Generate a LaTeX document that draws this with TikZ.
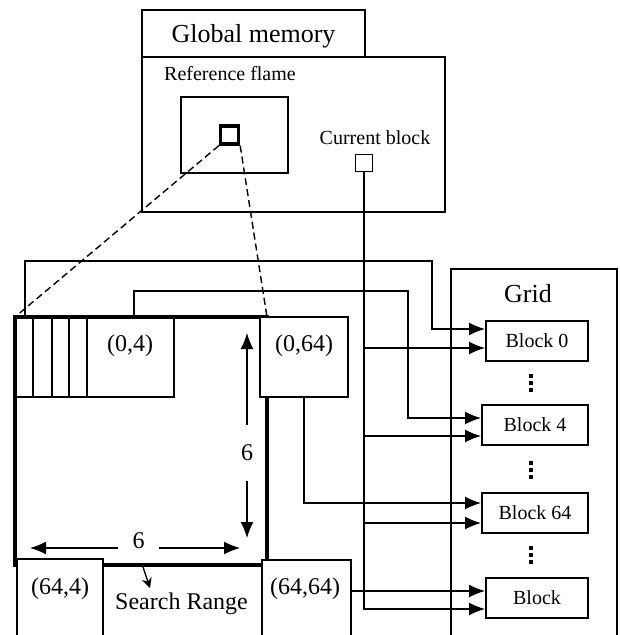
\documentclass[tikz,border=0pt]{standalone}
\usepackage{fontspec}
\setmainfont{Liberation Serif}
\usetikzlibrary{arrows.meta}

\begin{document}
\begin{tikzpicture}[x=0.5pt, y=-0.5pt, >={Latex[length=8pt,width=6.5pt]},
		link/.style={->, line width=0.7pt},
		blk/.style={draw, line width=1pt, minimum height=20pt, inner sep=0pt, font=\fontsize{10}{12}\selectfont},
		cell/.style={draw, fill=white, line width=0.7pt, inner sep=0pt},
		lbl/.style={font=\fontsize{12}{14}\selectfont, inner sep=0pt}]
	
	\useasboundingbox (0,0) rectangle (619,635);
	
	% --- Global memory: reference frame and current block ---
	\draw[line width=0.8pt] (142,10) rectangle (365,57);
	\node[font=\fontsize{13}{15}\selectfont] (gm) at (253.5,36) {Global memory};
	\draw[line width=0.8pt] (142,57) rectangle (445,212);
	\node[font=\fontsize{10}{12}\selectfont] (rf) at (230,74) {Reference flame};
	\draw[line width=0.9pt] (181,97) rectangle (288,173);
	\node[draw, line width=1.7pt, minimum size=9pt, inner sep=0pt] (ref) at (229.5,135) {};
	\node[font=\fontsize{10}{12}\selectfont] (cbl) at (375,138) {Current block};
	\node[draw, line width=0.9pt, minimum size=8.5pt, inner sep=0pt] (cur) at (364,163) {};
	
	% --- Search range with its corner blocks ---
	\draw[line width=0.7pt] (15,317) rectangle (174,397);
	\foreach \x in {33,52,69,87}
		\draw[line width=0.7pt] (\x,317) -- (\x,397);
	\node[lbl] (l04) at (130,346) {(0,4)};
	\draw[line width=2.2pt] (15,317) rectangle (267,565);
	
	\node[cell, minimum width=44pt, minimum height=40pt] (p064) at (304,357) {};
	\node[lbl] (l064) at (304,346) {(0,64)};
	\filldraw[fill=white, line width=0.7pt] (17,640) -- (17,559) -- (103,559) -- (103,640);
	\node[lbl] (l644) at (60,589) {(64,4)};
	\filldraw[fill=white, line width=0.7pt] (262,640) -- (262,560) -- (351,560) -- (351,640);
	\node[lbl] (l6464) at (305,589) {(64,64)};
	\node[lbl] (sr) at (181.5,604) {Search Range};
	
	\coordinate (s00) at (25,317);
	\coordinate (s04) at (134,317);
	\coordinate (p6464) at (351,591);
	
	% pointer to the label
	\coordinate (srt) at (143,567);
	\coordinate (srh) at (150,588);
	\draw[-{Stealth[length=5pt,width=5pt]}, line width=0.7pt] (srt) -- (srh);
	
	% size arrows
	\node[lbl, minimum height=27.5pt] (sixv) at (247,453) {6};
	\coordinate (vt) at (247,333);
	\coordinate (vb) at (247,538);
	\draw[link] (sixv) -- (vt);
	\draw[link] (sixv) -- (vb);
	\node[lbl] (sixh) at (138.5,541) {6};
	\coordinate (hl0) at (118,548);
	\coordinate (hl) at (30,548);
	\coordinate (hr0) at (159,548);
	\coordinate (hr) at (240,548);
	\draw[link] (hl0) -- (hl);
	\draw[link] (hr0) -- (hr);
	
	% projection of the reference block
	\coordinate (sa) at (15,317);
	\coordinate (sb) at (267,317);
	\draw[dash pattern=on 3.5pt off 2pt, line width=0.7pt] (ref.south west) -- (sa);
	\draw[dash pattern=on 3.5pt off 2pt, line width=0.7pt] (ref.south east) -- (sb);
	
	% --- Grid of blocks ---
	\draw[line width=0.8pt] (451,640) -- (451,269) -- (617,269) -- (617,640);
	\node[font=\fontsize{13}{15}\selectfont] (grid) at (528,294) {Grid};
	\node[blk, minimum width=51pt] (b0) at (537,341) {Block 0};
	\node[blk, minimum width=53pt] (b4) at (535,425) {Block 4};
	\node[blk, minimum width=53pt] (b64) at (535,513) {Block 64};
	\node[blk, minimum width=51pt] (blk) at (537,598) {Block};
	\foreach \y in {383,470,555}
		\foreach \d in {-7,0,7}
			\fill (529,\y+\d-2) rectangle ++(4,4);
	
	% --- Connections into the grid ---
	\draw[link] (s00) |- (432,261) |- ([yshift=6pt]b0.west);
	\draw[link] (s04) |- (408,291) |- ([yshift=3.5pt]b4.west);
	\draw[link] (p064.south) |- ([yshift=5pt]b64.west);
	\draw[link] (p6464) -- (p6464 -| blk.west);
	
	\draw[link] (cur.south) |- ([yshift=-3.5pt]b0.west);
	\draw[link] (cur.south) |- ([yshift=-5.5pt]b4.west);
	\draw[link] (cur.south) |- ([yshift=-5pt]b64.west);
	\draw[link] (cur.south) |- ([yshift=-5.5pt]blk.west);
	
\end{tikzpicture}
\end{document}
